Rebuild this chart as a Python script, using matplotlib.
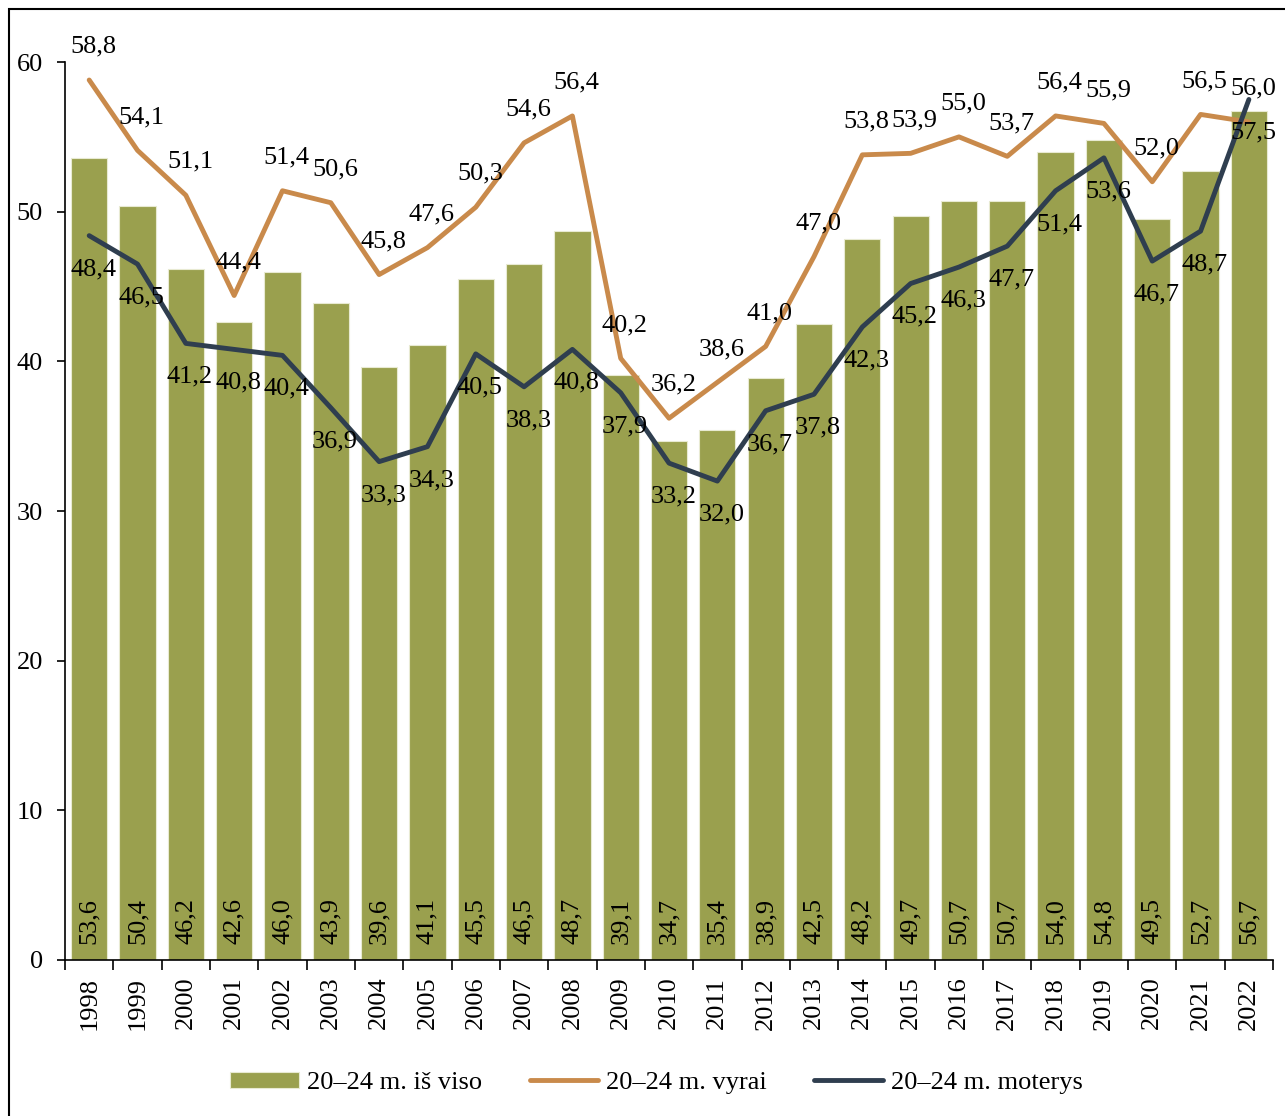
import matplotlib.pyplot as plt
import numpy as np
from matplotlib.patches import Rectangle

plt.rcParams['font.family'] = ['Liberation Serif', 'DejaVu Serif']

years = [str(y) for y in range(1998, 2023)]
viso = [53.6, 50.4, 46.2, 42.6, 46.0, 43.9, 39.6, 41.1, 45.5, 46.5, 48.7, 39.1, 34.7,
        35.4, 38.9, 42.5, 48.2, 49.7, 50.7, 50.7, 54.0, 54.8, 49.5, 52.7, 56.7]
vyrai = [58.8, 54.1, 51.1, 44.4, 51.4, 50.6, 45.8, 47.6, 50.3, 54.6, 56.4, 40.2, 36.2,
         38.6, 41.0, 47.0, 53.8, 53.9, 55.0, 53.7, 56.4, 55.9, 52.0, 56.5, 56.0]
moterys = [48.4, 46.5, 41.2, 40.8, 40.4, 36.9, 33.3, 34.3, 40.5, 38.3, 40.8, 37.9, 33.2,
           32.0, 36.7, 37.8, 42.3, 45.2, 46.3, 47.7, 51.4, 53.6, 46.7, 48.7, 57.5]

c_bar = "#9AA04E"
c_m = "#C98A4B"
c_w = "#2F3E4F"
fs = 19

def fmt(v):
    return ("%.1f" % v).replace(".", ",")

fig = plt.figure(figsize=(12.85, 11.16), dpi=100, facecolor="white")
ax = fig.add_axes([0.0506, 0.1398, 0.9401, 0.8046])
x = np.arange(len(years))

bars = ax.bar(x, viso, 0.75, color=c_bar, edgecolor="#E8EAD2", linewidth=0.8, label="20–24 m. iš viso", zorder=2)
l1, = ax.plot(x, vyrai, color=c_m, lw=3.5, label="20–24 m. vyrai", zorder=3, solid_capstyle='round')
l2, = ax.plot(x, moterys, color=c_w, lw=3.5, label="20–24 m. moterys", zorder=3, solid_capstyle='round')

for i in range(len(x)):
    ax.text(x[i], 1.1, fmt(viso[i]), rotation=90, ha='center', va='bottom', fontsize=fs, zorder=4)
    ax.annotate(fmt(vyrai[i]), (x[i], vyrai[i]), xytext=(3, 24), textcoords='offset points',
                ha='center', va='center', fontsize=fs, zorder=4, annotation_clip=False)
    ax.annotate(fmt(moterys[i]), (x[i], moterys[i]), xytext=(3, -24), textcoords='offset points',
                ha='center', va='center', fontsize=fs, zorder=4, annotation_clip=False)

ax.set_xlim(-0.5, len(x) - 0.5)
ax.set_ylim(0, 60)
ax.set_yticks(range(0, 61, 10))
ax.tick_params(axis='y', labelsize=fs, direction='out', length=6, width=1.2, pad=10)
ax.set_xticks(x)
ax.set_xticklabels(years, rotation=90, fontsize=fs)
ax.tick_params(axis='x', which='major', length=0, pad=12)
ax.set_xticks(np.arange(-0.5, len(x), 1), minor=True)
ax.tick_params(axis='x', which='minor', length=7, width=1.2, direction='out')
for s in ['top', 'right']:
    ax.spines[s].set_visible(False)
for s in ['left', 'bottom']:
    ax.spines[s].set_linewidth(1.2)

ax.legend([bars, l1, l2], ["20–24 m. iš viso", "20–24 m. vyrai", "20–24 m. moterys"],
          loc='center', bbox_to_anchor=(0.511, 0.0296), bbox_transform=fig.transFigure,
          ncol=3, frameon=False, fontsize=fs, handlelength=2.6, handleheight=0.6,
          columnspacing=1.8, handletextpad=0.3)

fig.patches.append(Rectangle((9 / 1285, -0.05), 1.1, 1 - 9 / 1116 + 0.05, transform=fig.transFigure,
                             fill=False, edgecolor='black', linewidth=1.5))

fig.savefig("out.png", dpi=100)
